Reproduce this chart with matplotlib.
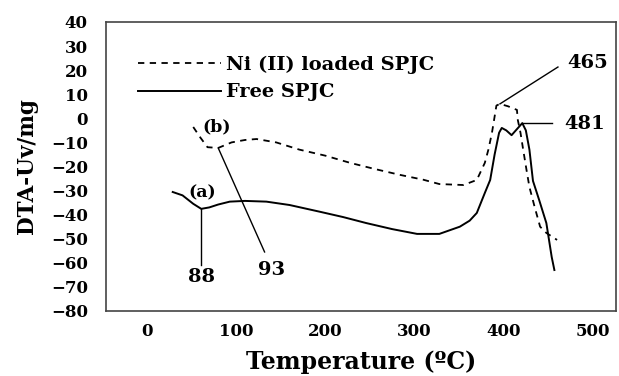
import matplotlib
matplotlib.use("Agg")
import matplotlib.pyplot as plt

# Free SPJC (solid)
free_x = [29, 40, 52, 61, 70, 80, 93, 110, 134, 160, 194, 220, 246, 275, 303, 328, 351, 362, 370,
          379, 385, 390, 395, 398, 403, 409, 415, 421, 425, 429, 433, 440, 448, 454, 457]
free_y = [-30.6, -32, -35.5, -37.6, -37, -35.8, -34.6, -34.3, -34.6, -36, -38.8, -41, -43.5, -46, -48,
          -48, -45, -42.5, -39.3, -31, -25.6, -15, -6, -4, -5, -7, -4.5, -2, -5, -13, -26, -34, -43.5,
          -57.6, -63]

# Ni (II) loaded SPJC (dashed)
ni_x = [52, 60, 68, 80, 95, 110, 123, 145, 171, 200, 228, 255, 284, 310, 328, 355, 370, 379, 383,
        387, 392, 396, 405, 415, 416, 419, 422, 426, 429, 435, 441, 448, 460]
ni_y = [-3.6, -8, -12, -12.3, -10, -9, -8.6, -10, -13, -15.5, -18.5, -21, -23.5, -25.5, -27.3, -27.7,
        -25.6, -18.5, -13, -6, 5.3, 6, 5, 3.5, -0.7, -6, -13, -22, -28.5, -37, -45, -47.6, -50.5]

xticks = [0, 100, 200, 300, 400, 500]
yticks = list(range(-80, 41, 10))

plt.rcParams['font.family'] = ['DejaVu Serif']
plt.rcParams['font.weight'] = 'bold'

fig = plt.figure(figsize=(6.19, 3.76), dpi=100)
ax = fig.add_axes([0.171, 0.173, 0.824, 0.7685])

ax.plot(ni_x, ni_y, color='black', lw=1.3, linestyle=(0, (3.5, 3)), label='Ni (II) loaded SPJC')
ax.plot(free_x, free_y, color='black', lw=1.4, label='Free SPJC')

ax.set_xlim(-46, 526)
ax.set_ylim(-80, 40)
ax.set_xticks(xticks)
ax.set_yticks(yticks)
ax.tick_params(axis='y', length=0, labelsize=12, pad=13)
ax.tick_params(axis='x', length=0, labelsize=12, pad=9)
for lab in ax.get_xticklabels() + ax.get_yticklabels():
    lab.set_fontweight('bold')
for s in ax.spines.values():
    s.set_color('#444444')
    s.set_linewidth(1.2)

ax.set_xlabel('Temperature (ºC)', fontsize=17, fontweight='bold', labelpad=7)
ax.set_ylabel('DTA-Uv/mg', fontsize=15.5, fontweight='bold', labelpad=9)

leg = ax.legend(loc='upper left', bbox_to_anchor=(0.028, 0.945), frameon=False,
                handlelength=4.3, handletextpad=0.25, labelspacing=0.5,
                prop={'weight': 'bold', 'size': 14})

# annotations
lw_a = 1.0
ax.plot([61, 61], [-37.6, -60.9], color='black', lw=lw_a)
ax.text(61, -66, '88', ha='center', va='center', fontsize=14, fontweight='bold')
ax.plot([80, 132], [-12.3, -55.5], color='black', lw=lw_a)
ax.text(140, -63, '93', ha='center', va='center', fontsize=14, fontweight='bold')
ax.plot([396, 461], [6, 21.3], color='black', lw=lw_a)
ax.text(494, 23, '465', ha='center', va='center', fontsize=14, fontweight='bold')
ax.plot([421, 454], [-2, -2], color='black', lw=lw_a)
ax.text(491, -2.4, '481', ha='center', va='center', fontsize=14, fontweight='bold')
ax.text(78, -3.6, '(b)', ha='center', va='center', fontsize=12.5, fontweight='bold')
ax.text(62, -31, '(a)', ha='center', va='center', fontsize=12.5, fontweight='bold')

fig.savefig('out.png', dpi=100)
